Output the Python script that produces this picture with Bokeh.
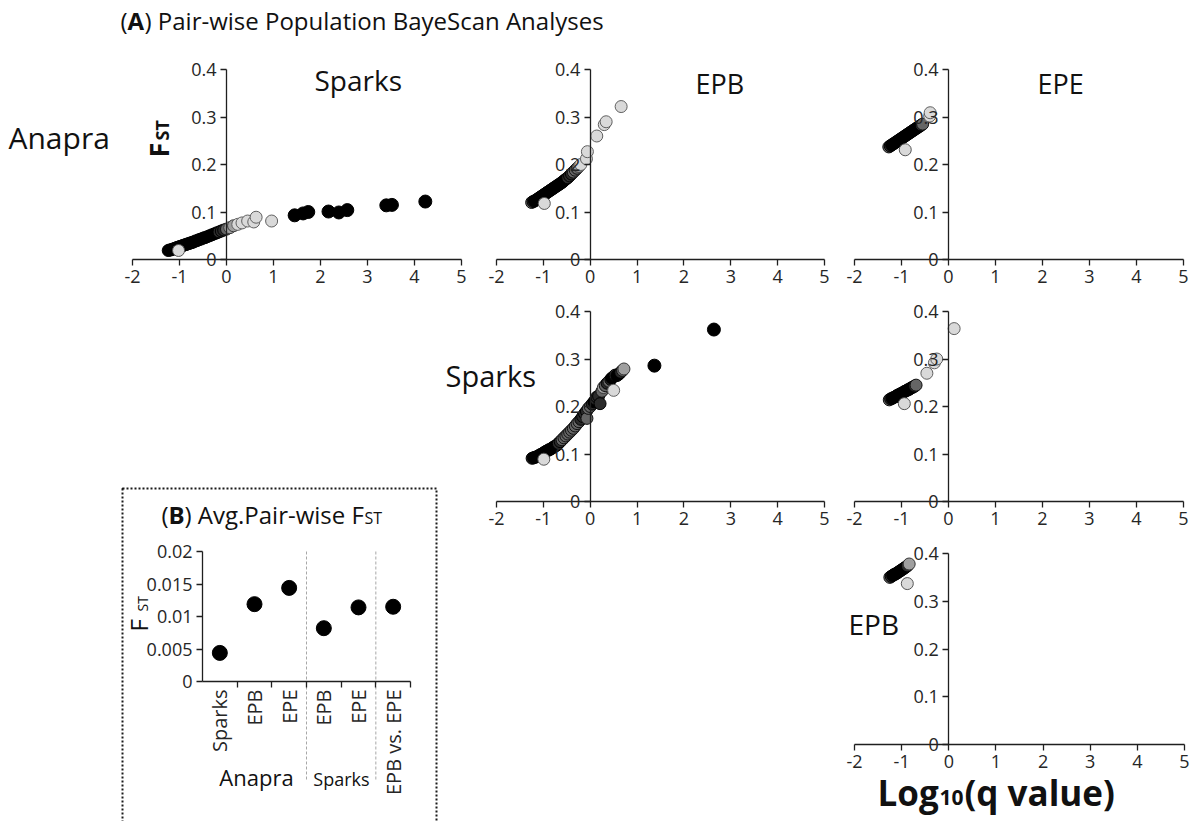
import math
from bokeh.plotting import figure
from bokeh.models import Range1d, LinearAxis, FixedTicker, Label, BoxAnnotation, Spacer
from bokeh.layouts import row, column
from bokeh.embed import file_html
from bokeh.resources import INLINE

FONT = "Open Sans"
INK = "#1f1f1f"

# ---------------- data ----------------
# (A) BayeScan panels: x = log10(q value), y = FST
x_ticks = [-2, -1, 0, 1, 2, 3, 4, 5]
x_tick_labels = ["-2", "-1", "0", "1", "2", "3", "4", "5"]
y_ticks = [0, 0.1, 0.2, 0.3, 0.4]
y_tick_labels = ["0", "0.1", "0.2", "0.3", "0.4"]

# Anapra vs Sparks
ana_spa_x = [-1.24, -1.21, -1.19, -1.16, -1.14, -1.11, -1.08, -1.06, -1.03, -1.0, -0.97, -0.94, -0.91,
             -0.88, -0.85, -0.82, -0.79, -0.76, -0.73, -0.70, -0.66, -0.62, -0.58, -0.54, -0.50, -0.46,
             -0.41, -0.36, -0.31, -0.26, -0.21, -0.16, -0.11, -0.06, 0.0, 0.07, 0.15, 0.24, 0.33, 0.45,
             0.58, 0.63, 0.96]
ana_spa_y = [0.019, 0.020, 0.020, 0.021, 0.022, 0.023, 0.024, 0.025, 0.026, 0.027, 0.028, 0.029, 0.030,
             0.031, 0.032, 0.033, 0.034, 0.035, 0.036, 0.037, 0.039, 0.040, 0.042, 0.043, 0.045, 0.046,
             0.048, 0.050, 0.052, 0.054, 0.056, 0.058, 0.060, 0.062, 0.064, 0.067, 0.071, 0.074, 0.077, 0.081,
             0.079, 0.089, 0.081]
ana_spa_front_x = [-1.02]
ana_spa_front_y = [0.019]
ana_spa_out_x = [1.45, 1.63, 1.74, 2.17, 2.39, 2.57, 3.40, 3.52, 4.23]
ana_spa_out_y = [0.093, 0.097, 0.100, 0.101, 0.099, 0.104, 0.114, 0.115, 0.122]

# Anapra vs EPB
ana_epb_x = [-1.25, -1.22, -1.19, -1.16, -1.13, -1.10, -1.07, -1.04, -1.01, -0.98, -0.95, -0.92, -0.89,
             -0.86, -0.83, -0.80, -0.77, -0.74, -0.71, -0.68, -0.65, -0.62, -0.59, -0.56, -0.52, -0.48,
             -0.44, -0.40, -0.36, -0.32, -0.28, -0.24, -0.20, -0.08, -0.06, 0.14, 0.30, 0.34, 0.66]
ana_epb_y = [0.120, 0.122, 0.123, 0.125, 0.127, 0.129, 0.131, 0.133, 0.135, 0.137, 0.139, 0.141, 0.143,
             0.145, 0.147, 0.149, 0.151, 0.153, 0.155, 0.157, 0.159, 0.161, 0.163, 0.166, 0.169, 0.172,
             0.176, 0.180, 0.184, 0.188, 0.192, 0.196, 0.200, 0.212, 0.227, 0.260, 0.284, 0.290, 0.322]
ana_epb_front_x = [-0.98]
ana_epb_front_y = [0.118]

# Anapra vs EPE
ana_epe_x = [-1.27, -1.24, -1.21, -1.18, -1.15, -1.12, -1.09, -1.06, -1.03, -1.00, -0.97, -0.94, -0.91,
             -0.88, -0.85, -0.82, -0.79, -0.76, -0.73, -0.70, -0.67, -0.64, -0.61, -0.58, -0.55, -0.40,
             -0.39]
ana_epe_y = [0.237, 0.239, 0.241, 0.243, 0.245, 0.247, 0.249, 0.251, 0.253, 0.255, 0.257, 0.259, 0.261,
             0.263, 0.265, 0.267, 0.269, 0.271, 0.273, 0.275, 0.277, 0.279, 0.281, 0.283, 0.285, 0.302,
             0.309]
ana_epe_front_x = [-0.92]
ana_epe_front_y = [0.231]

# Sparks vs EPB
spa_epb_x = [-1.24, -1.21, -1.18, -1.15, -1.12, -1.09, -1.06, -1.03, -1.0, -0.97, -0.94, -0.91, -0.88,
             -0.85, -0.82, -0.79, -0.76, -0.72, -0.68, -0.64, -0.60, -0.56, -0.52, -0.48, -0.44, -0.40,
             -0.36, -0.32, -0.28, -0.24, -0.20, -0.16, -0.12, -0.08, -0.07, -0.04, 0.0, 0.04, 0.08, 0.12,
             0.14, 0.18, 0.21, 0.25, 0.28, 0.32, 0.36, 0.40, 0.44, 0.46, 0.50, 0.53, 0.57, 0.61, 0.65,
             0.69, 0.72]
spa_epb_y = [0.091, 0.092, 0.093, 0.094, 0.095, 0.097, 0.099, 0.100, 0.102, 0.104, 0.106, 0.107, 0.109,
             0.110, 0.112, 0.114, 0.116, 0.118, 0.122, 0.126, 0.130, 0.134, 0.138, 0.142, 0.146, 0.150,
             0.154, 0.159, 0.164, 0.168, 0.173, 0.179, 0.185, 0.190, 0.175, 0.196, 0.200, 0.205, 0.210,
             0.215, 0.220, 0.222, 0.206, 0.232, 0.240, 0.244, 0.249, 0.253, 0.257, 0.260, 0.234, 0.266,
             0.265, 0.268, 0.272, 0.276, 0.279]
spa_epb_front_x = [-0.99]
spa_epb_front_y = [0.089]
spa_epb_out_x = [1.37, 2.64]
spa_epb_out_y = [0.286, 0.362]

# Sparks vs EPE
spa_epe_x = [-1.26, -1.23, -1.20, -1.17, -1.14, -1.11, -1.08, -1.05, -1.02, -0.99, -0.96, -0.93, -0.90,
             -0.87, -0.84, -0.81, -0.78, -0.75, -0.72, -0.69, -0.46, -0.30, -0.25, 0.12]
spa_epe_y = [0.214, 0.216, 0.217, 0.219, 0.220, 0.222, 0.224, 0.225, 0.227, 0.228, 0.230, 0.232, 0.233,
             0.235, 0.236, 0.238, 0.240, 0.241, 0.243, 0.245, 0.270, 0.292, 0.300, 0.364]
spa_epe_front_x = [-0.94]
spa_epe_front_y = [0.206]

# EPB vs EPE
epb_epe_x = [-1.25, -1.22, -1.19, -1.16, -1.13, -1.10, -1.07, -1.04, -1.01, -0.98, -0.95, -0.92, -0.88,
             -0.84]
epb_epe_y = [0.350, 0.352, 0.354, 0.356, 0.357, 0.359, 0.361, 0.363, 0.365, 0.367, 0.369, 0.371, 0.374,
             0.378]
epb_epe_front_x = [-0.88]
epb_epe_front_y = [0.337]

# (B) average pair-wise FST
avg_pairs = ["Sparks", "EPB", "EPE", "EPB", "EPE", "EPB vs. EPE"]
avg_fst = [0.0044, 0.0119, 0.0144, 0.0082, 0.0114, 0.0115]
avg_groups = ["Anapra", "Sparks"]
avg_y_ticks = [0, 0.005, 0.01, 0.015, 0.02]
avg_y_tick_labels = ["0", "0.005", "0.01", "0.015", "0.02"]


# ---------------- helpers ----------------
def make_fig(fx, fy, w, h, box, xr, yr):
    L, R, T, B = box
    sx = (R - L) / (xr[1] - xr[0])
    sy = (B - T) / (yr[1] - yr[0])
    x0 = xr[0] - (L - fx) / sx
    x1 = xr[1] + (fx + w - R) / sx
    y0 = yr[0] - (fy + h - B) / sy
    y1 = yr[1] + (T - fy) / sy
    p = figure(width=w, height=h, x_range=Range1d(x0, x1), y_range=Range1d(y0, y1),
               output_backend="svg", toolbar_location=None, title=None,
               x_axis_type=None, y_axis_type=None, min_border=0,
               outline_line_color=None, background_fill_color="white", border_fill_color="white")
    org = (fx, fy, h)
    return p, org, (sx, sy)


def style_axis(ax, size="18px"):
    ax.axis_line_color = INK
    ax.axis_line_width = 1.3
    ax.major_tick_line_color = INK
    ax.major_tick_line_width = 1.3
    ax.major_tick_out = 6
    ax.major_tick_in = 0
    ax.minor_tick_line_color = None
    ax.major_label_text_font = FONT
    ax.major_label_text_font_size = size
    ax.major_label_text_color = "#262626"
    ax.major_label_standoff = 4


def scatter_axes(p):
    xa = LinearAxis(fixed_location=0, bounds=(-2, 5), ticker=FixedTicker(ticks=x_ticks),
                    major_label_overrides=dict(zip(x_ticks, x_tick_labels)))
    style_axis(xa)
    p.add_layout(xa, "below")
    ya = LinearAxis(fixed_location=0, bounds=(0, 0.4), ticker=FixedTicker(ticks=y_ticks),
                    major_label_overrides=dict(zip(y_ticks, y_tick_labels)))
    style_axis(ya)
    p.add_layout(ya, "left")


BASE_K = 0.37  # measured shift between requested and drawn baseline, as a fraction of font size


def txt(p, org, X, Y, text, size, bold=False, angle=0.0, align="left", color="#111111"):
    fx, fy, h = org
    d = BASE_K * size
    x = X - fx - math.sin(angle) * d
    y = fy + h - Y + math.cos(angle) * d
    p.add_layout(Label(x=x, y=y, x_units="screen", y_units="screen", text=text,
                       text_font=FONT, text_font_size=f"{size}px",
                       text_font_style="bold" if bold else "normal", angle=angle,
                       text_align=align, text_baseline="alphabetic", text_color=color))


def shade(xs, ys, scale, r=8.0):
    """Fill/outline gray per point from how crowded its neighbourhood is (overlap darkening)."""
    sx, sy = scale
    fills, lines = [], []
    for i in range(len(xs)):
        n = sum(1 for j in range(len(xs))
                if j != i and math.hypot((xs[i] - xs[j]) * sx, (ys[i] - ys[j]) * sy) < r)
        g = 217 if n <= 2 else max(0, 217 - 58 * (n - 2))
        lg = 96 if n <= 2 else max(0, 96 - 40 * (n - 2))
        fills.append("#%02x%02x%02x" % (g, g, g))
        lines.append("#%02x%02x%02x" % (lg, lg, lg))
    return fills, lines


def dots(p, scale, xs, ys, fx_, fy_, ox=None, oy=None):
    fills, lines = shade(xs, ys, scale)
    p.scatter(xs, ys, size=12, fill_color=fills, line_color=lines, line_width=1)
    p.scatter(fx_, fy_, size=12, fill_color="#d9d9d9", line_color="#555555", line_width=1)
    if ox:
        p.scatter(ox, oy, size=13, fill_color="black", line_color="black", line_width=1)


SC = dict(xr=(-2, 5), yr=(0, 0.4))

# ---------------- header ----------------
hdr, hdr_org, _ = make_fig(0, 0, 1195, 45, (0, 1195, 0, 45), (0, 1195), (0, 45))
txt(hdr, hdr_org, 120, 29, "(", 24)
txt(hdr, hdr_org, 127, 29, "A", 24, bold=True)
txt(hdr, hdr_org, 144, 29, ") Pair-wise Population BayeScan Analyses", 24)

# ---------------- row 1 ----------------
f11, o11, s11 = make_fig(0, 45, 470, 245, (132, 461, 69, 259), **SC)
scatter_axes(f11)
dots(f11, s11, ana_spa_x, ana_spa_y, ana_spa_front_x, ana_spa_front_y, ana_spa_out_x, ana_spa_out_y)
txt(f11, o11, 314, 90, "Sparks", 28)
txt(f11, o11, 8, 148, "Anapra", 30)
txt(f11, o11, 168, 157, "F", 27, bold=True, angle=math.pi / 2)
txt(f11, o11, 168, 140, "ST", 18, bold=True, angle=math.pi / 2)

f12, o12, s12 = make_fig(470, 45, 366, 245, (496, 824, 69, 259), **SC)
scatter_axes(f12)
dots(f12, s12, ana_epb_x, ana_epb_y, ana_epb_front_x, ana_epb_front_y)
txt(f12, o12, 695, 93, "EPB", 27)

f13, o13, s13 = make_fig(836, 45, 359, 245, (854, 1183, 69, 259), **SC)
scatter_axes(f13)
dots(f13, s13, ana_epe_x, ana_epe_y, ana_epe_front_x, ana_epe_front_y)
txt(f13, o13, 1037, 93, "EPE", 27)

# ---------------- panel B ----------------
fB, oB, (bsx, bsy) = make_fig(0, 486, 440, 335, (202, 410, 551, 681), (0, 6), (0, 0.02))
cat_pos = [i + 0.5 for i in range(len(avg_pairs))]
bxa = LinearAxis(fixed_location=0, bounds=(0, len(avg_pairs)),
                 ticker=FixedTicker(ticks=cat_pos, minor_ticks=list(range(1, len(avg_pairs) + 1))),
                 major_label_overrides=dict(zip(cat_pos, avg_pairs)))
style_axis(bxa, "20px")
bxa.major_tick_line_color = None
bxa.minor_tick_line_color = INK
bxa.minor_tick_line_width = 1.3
bxa.minor_tick_out = 6
bxa.minor_tick_in = 0
bxa.major_label_orientation = math.pi / 2
bxa.major_label_standoff = 2
fB.add_layout(bxa, "below")
bya = LinearAxis(fixed_location=0, bounds=(0, 0.02), ticker=FixedTicker(ticks=avg_y_ticks),
                 major_label_overrides=dict(zip(avg_y_ticks, avg_y_tick_labels)))
style_axis(bya)
fB.add_layout(bya, "left")
sep_low = -(780 - 681) / bsy
fB.segment(x0=[3, 5], y0=[0.02, 0.02], x1=[3, 5], y1=[sep_low, sep_low],
           line_color="#a8a8a8", line_width=1, line_dash="3 2")
fB.scatter(cat_pos, avg_fst, size=15, fill_color="black", line_color="black")
fB.add_layout(BoxAnnotation(left=122, right=436, top=333, bottom=-20,
                            left_units="screen", right_units="screen", top_units="screen", bottom_units="screen",
                            fill_color=None, fill_alpha=0, line_color="#1a1a1a", line_alpha=1.0,
                            line_width=2, line_dash="2 2"))
txt(fB, oB, 161, 523, "(", 24)
txt(fB, oB, 168, 523, "B", 24, bold=True)
txt(fB, oB, 184, 523, ") Avg.Pair-wise F", 24)
txt(fB, oB, 364, 523, "ST", 16)
txt(fB, oB, 147, 631, "F", 24, angle=math.pi / 2)
txt(fB, oB, 147, 611, "ST", 14, angle=math.pi / 2)
txt(fB, oB, 256, 785, avg_groups[0], 22, align="center")
txt(fB, oB, 341, 785, avg_groups[1], 18, align="center")

# ---------------- rows 2-3 ----------------
f22, o22, s22 = make_fig(440, 290, 396, 531, (496, 824, 311, 501), **SC)
scatter_axes(f22)
dots(f22, s22, spa_epb_x, spa_epb_y, spa_epb_front_x, spa_epb_front_y, spa_epb_out_x, spa_epb_out_y)
txt(f22, o22, 445, 386, "Sparks", 29)

f23, o23, s23 = make_fig(836, 290, 359, 240, (854, 1183, 311, 501), **SC)
scatter_axes(f23)
dots(f23, s23, spa_epe_x, spa_epe_y, spa_epe_front_x, spa_epe_front_y)

f33, o33, s33 = make_fig(836, 530, 359, 291, (854, 1184, 553, 744), **SC)
scatter_axes(f33)
dots(f33, s33, epb_epe_x, epb_epe_y, epb_epe_front_x, epb_epe_front_y)
txt(f33, o33, 848, 634, "EPB", 28)
txt(f33, o33, 877, 805, "Log", 35, bold=True)
txt(f33, o33, 939, 805, "10", 21, bold=True)
txt(f33, o33, 964, 805, "(q value)", 35, bold=True)

layout = column(
    hdr,
    row(f11, f12, f13),
    row(column(Spacer(width=440, height=196), fB), f22, column(f23, f33)),
)

open("out.html", "w").write(file_html(layout, INLINE))
